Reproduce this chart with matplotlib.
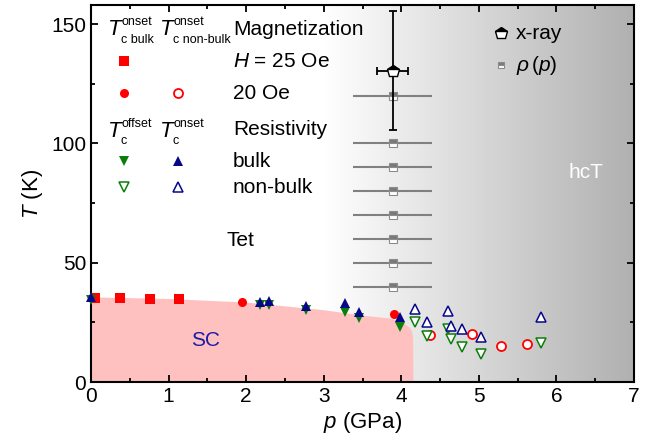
import numpy as np
import matplotlib.pyplot as plt
from matplotlib.colors import LinearSegmentedColormap
from matplotlib.ticker import MultipleLocator

plt.rcParams['font.family'] = ['Liberation Sans', 'DejaVu Sans']
plt.rcParams['mathtext.fontset'] = 'custom'
plt.rcParams['mathtext.rm'] = 'Liberation Sans'
plt.rcParams['mathtext.it'] = 'Liberation Sans:italic'
plt.rcParams['mathtext.bf'] = 'Liberation Sans:bold'

# magnetization (onset), bulk and non-bulk
p_m25 = [0.05, 0.37, 0.76, 1.14]
T_m25 = [35.4, 35.3, 35.0, 35.0]
p_m20 = [1.95, 3.91]
T_m20 = [33.4, 28.6]
p_m20_nb = [4.37, 4.91, 5.29, 5.62]
T_m20_nb = [19.7, 20.0, 15.1, 16.0]

# resistivity, bulk
p_rb = [0.0, 2.18, 2.30, 2.77, 3.28, 3.45, 3.98]
T_off_b = [34.4, 32.3, 32.3, 30.2, 29.5, 26.7, 23.2]
T_on_b = [35.8, 33.7, 34.0, 32.0, 33.0, 29.5, 27.4]
# resistivity, non-bulk
p_rnb = [4.17, 4.33, 4.60, 4.64, 4.78, 5.03, 5.80]
T_off_nb = [25.3, 19.4, 22.1, 17.9, 14.8, 11.7, 16.2]
T_on_nb = [30.6, 25.0, 29.8, 23.5, 22.2, 19.0, 27.1]

# structural transition
p_xray, T_xray, dp_xray, dT_xray = 3.89, 130.5, 0.2, 25.0
T_rho = [120, 100, 90, 80, 70, 60, 50, 40]
p_rho, dp_rho = 3.89, 0.51

# superconducting region boundary
p_sc = [0, 1, 2, 3, 3.5, 3.86, 4.03, 4.10, 4.13, 4.145, 4.15]
T_sc = [35.7, 35.0, 33.5, 30.3, 28.0, 26.8, 24.6, 23.0, 21.5, 19.0, 0]

red = '#ff0000'
green = '#0b7d0b'
blue = '#06068a'

fig = plt.figure(figsize=(6.53, 4.42), dpi=100)
ax = fig.add_axes([0.1394, 0.1357, 0.8316, 0.853])

# grey gradient for hcT
cmap = LinearSegmentedColormap.from_list('g', ['#ffffff', '#b0b0b0'])
ax.imshow(np.linspace(0, 1, 256)[None, :], extent=[3.0, 7.0, 0, 158],
          aspect='auto', cmap=cmap, zorder=0)

ax.fill_between(p_sc, T_sc, 0, color='#ffc0c0', lw=0, zorder=1)

# rho(p) points
ax.errorbar([p_rho] * len(T_rho), T_rho, xerr=dp_rho, fmt='none',
            ecolor='#808080', elinewidth=1.5, zorder=2)
ax.plot([p_rho] * len(T_rho), T_rho, 's', ms=6, fillstyle='top',
        mfc='#7a7a7a', mfcalt='white', mec='#8c8c8c', mew=0.8, zorder=3)

# x-ray point
ax.errorbar(p_xray, T_xray, xerr=dp_xray, yerr=dT_xray, fmt='none',
            ecolor='black', elinewidth=1.3, capsize=3, capthick=1.3, zorder=4)
ax.plot(p_xray, T_xray, 'p', ms=9, fillstyle='top', mfc='black',
        mfcalt='white', mec='black', mew=1.0, zorder=5)

# data
ax.plot(p_m25, T_m25, 's', ms=6.5, color=red, mew=0, zorder=5, clip_on=False)
ax.plot(p_rb, T_off_b, 'v', ms=7, color=green, mew=0, zorder=6, clip_on=False)
ax.plot(p_rb, T_on_b, '^', ms=7, color=blue, mew=0, zorder=7, clip_on=False)
ax.plot(p_m20, T_m20, 'o', ms=6.5, color=red, mew=0, zorder=6)
ax.plot(p_m20_nb, T_m20_nb, 'o', ms=6.5, mfc='white', mec=red, mew=1.3, zorder=6)
ax.plot(p_rnb, T_off_nb, 'v', ms=7, mfc='white', mec=green, mew=1.1, zorder=6)
ax.plot(p_rnb, T_on_nb, '^', ms=7, mfc='white', mec=blue, mew=1.1, zorder=6)

# phase labels
ax.text(1.92, 59.5, 'Tet', fontsize=15, ha='center', va='center')
ax.text(1.47, 17.6, 'SC', fontsize=15, ha='center', va='center', color='#1c1ca6')
ax.text(6.38, 87.6, 'hcT', fontsize=15, ha='center', va='center', color='white')


def tc_label(x, y, sup, sub):
    ax.text(x, y, 'T', style='italic', fontsize=16, va='baseline')
    ax.annotate(sup, (x, y), xytext=(9.8, 7.2), textcoords='offset points',
                fontsize=9, va='baseline')
    ax.annotate(sub, (x, y), xytext=(9.0, -5.5), textcoords='offset points',
                fontsize=9, va='baseline')


# left legend block
c1, c2, xt = 0.42, 1.12, 1.83
tc_label(0.22, 145.4, 'onset', 'c bulk')
tc_label(0.89, 145.4, 'onset', 'c non-bulk')
ax.text(xt, 145.4, 'Magnetization', fontsize=15, va='baseline')
ax.plot(c1, 134.5, 's', ms=6.5, color=red, mew=0)
ax.text(xt, 132.1, r'$H$ = 25 Oe', fontsize=15, va='baseline')
ax.plot(c1, 121, 'o', ms=6.5, color=red, mew=0)
ax.plot(c2, 121, 'o', ms=6.5, mfc='white', mec=red, mew=1.3)
ax.text(xt, 118.4, '20 Oe', fontsize=15, va='baseline')
tc_label(0.22, 102.8, 'offset', 'c')
tc_label(0.89, 102.8, 'onset', 'c')
ax.text(xt, 103.5, 'Resistivity', fontsize=15, va='baseline')
ax.plot(c1, 92.5, 'v', ms=7, color=green, mew=0)
ax.plot(c2, 92.5, '^', ms=7, color=blue, mew=0)
ax.text(xt, 90.2, 'bulk', fontsize=15, va='baseline')
ax.plot(c1, 81.7, 'v', ms=7, mfc='white', mec=green, mew=1.1)
ax.plot(c2, 81.7, '^', ms=7, mfc='white', mec=blue, mew=1.1)
ax.text(xt, 79.3, 'non-bulk', fontsize=15, va='baseline')

# right legend block
ax.plot(5.28, 146.1, 'p', ms=9, fillstyle='top', mfc='black', mfcalt='white',
        mec='black', mew=1.0)
ax.text(5.48, 146.1, 'x-ray', fontsize=15, va='center')
ax.plot(5.28, 132.8, 's', ms=4.5, fillstyle='top', mfc='#7a7a7a',
        mfcalt='white', mec='#8c8c8c', mew=0.8)
ax.text(5.48, 132.8, r'$\rho\,(p)$', fontsize=15, va='center')

ax.set_xlim(0, 7)
ax.set_ylim(0, 158)
ax.xaxis.set_major_locator(MultipleLocator(1))
ax.xaxis.set_minor_locator(MultipleLocator(0.5))
ax.yaxis.set_major_locator(MultipleLocator(50))
ax.yaxis.set_minor_locator(MultipleLocator(25))
ax.tick_params(which='both', direction='in', top=True, right=True, width=1.3,
               labelsize=15)
ax.tick_params(which='major', length=5)
ax.tick_params(which='minor', length=3)
for s in ax.spines.values():
    s.set_linewidth(1.5)
ax.set_xlabel(r'$p$ (GPa)', fontsize=16, labelpad=3)
ax.set_ylabel(r'$T$ (K)', fontsize=16, labelpad=4)

fig.savefig('out.png', dpi=100)
